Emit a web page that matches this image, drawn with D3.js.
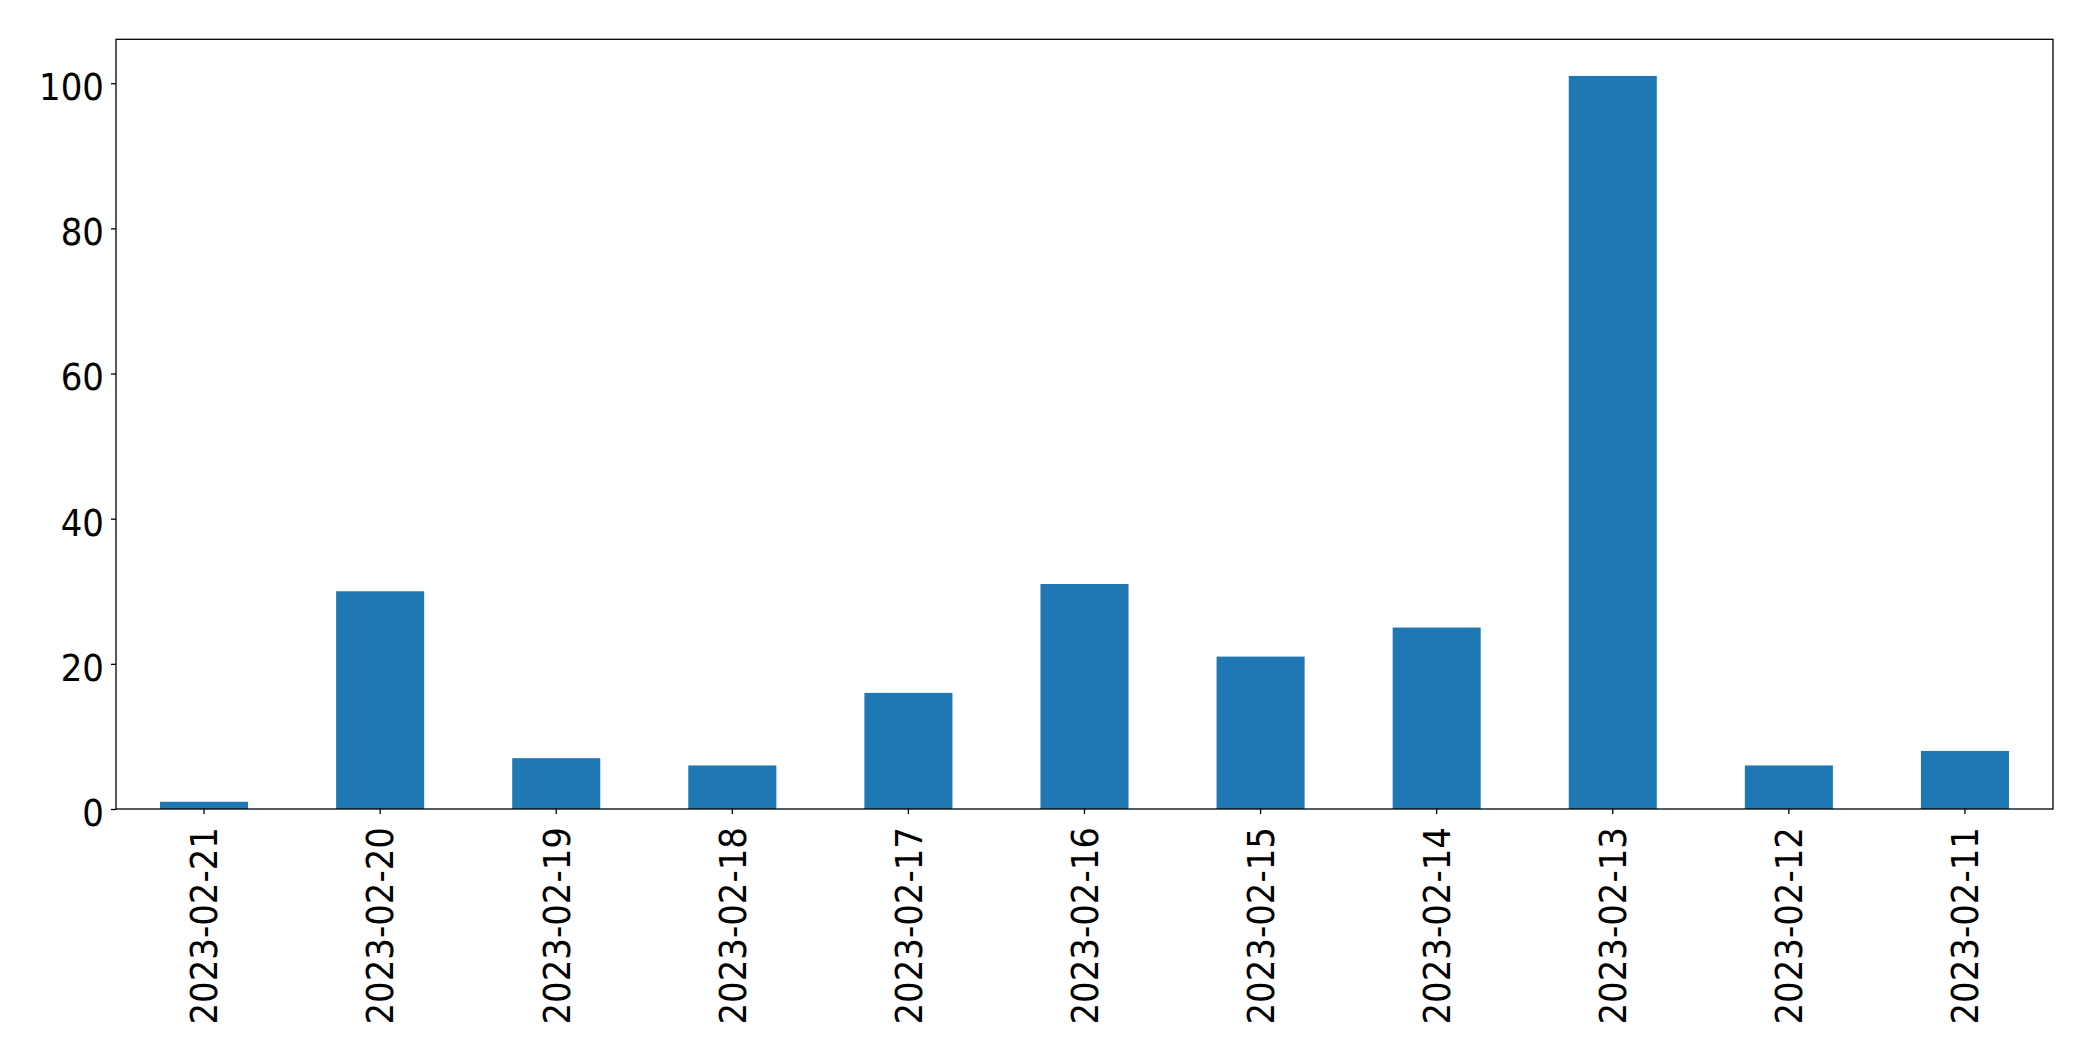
<!DOCTYPE html>
<html><head><meta charset="utf-8">
<script src="https://cdn.jsdelivr.net/npm/d3@7"></script>
<style>body{margin:0;background:#fff}</style>
</head><body>
<svg id="c" width="2093" height="1061"></svg>
<script>
const categories = ["2023-02-21","2023-02-20","2023-02-19","2023-02-18","2023-02-17","2023-02-16","2023-02-15","2023-02-14","2023-02-13","2023-02-12","2023-02-11"];
const values = [1, 30, 7, 6, 16, 31, 21, 25, 101, 6, 8];
const yTicks = [0, 20, 40, 60, 80, 100];

const m = {left: 116, right: 2053, top: 39.3, bottom: 809};
const svg = d3.select("#c");
const font = "DejaVu Sans";
const fs = 38;
const sx = 0.895;

const x = d3.scaleBand().domain(categories).range([m.left, m.right]).paddingInner(0.5).paddingOuter(0.25);
const yMax = d3.max(values) * 1.05;
const y = d3.scaleLinear().domain([0, yMax]).range([m.bottom, m.top]);

svg.append("g").selectAll("rect").data(values).join("rect")
  .attr("x", (d, i) => x(categories[i]))
  .attr("width", x.bandwidth())
  .attr("y", d => y(d))
  .attr("height", d => y(0) - y(d))
  .attr("fill", "#1f77b4");

const xAxis = svg.append("g").attr("transform", `translate(0,${m.bottom})`)
  .call(d3.axisBottom(x).tickSize(5).tickPadding(13).tickSizeOuter(0));
xAxis.select(".domain").remove();
xAxis.selectAll("text")
  .attr("font-family", font).attr("font-size", fs).attr("fill", "#000")
  .attr("text-anchor", "end").attr("dy", "0.35em").attr("dx", 0)
  .attr("transform", `rotate(-90) scale(${sx},1)`)
  .attr("x", -18 / sx).attr("y", 0);
xAxis.selectAll("line").attr("stroke", "#000").attr("stroke-width", 1.3);

const yAxis = svg.append("g").attr("transform", `translate(${m.left},0)`)
  .call(d3.axisLeft(y).tickValues(yTicks).tickSize(5).tickPadding(7).tickSizeOuter(0));
yAxis.select(".domain").remove();
yAxis.selectAll("text").attr("font-family", font).attr("font-size", fs).attr("fill", "#000")
  .attr("x", -12 / sx).attr("dy", "0.43em")
  .attr("transform", `scale(${sx},1)`);
yAxis.selectAll("line").attr("stroke", "#000").attr("stroke-width", 1.3);

svg.append("rect").attr("x", m.left).attr("y", m.top)
  .attr("width", m.right - m.left).attr("height", m.bottom - m.top)
  .attr("fill", "none").attr("stroke", "#000").attr("stroke-width", 1.3);
</script>
</body></html>
